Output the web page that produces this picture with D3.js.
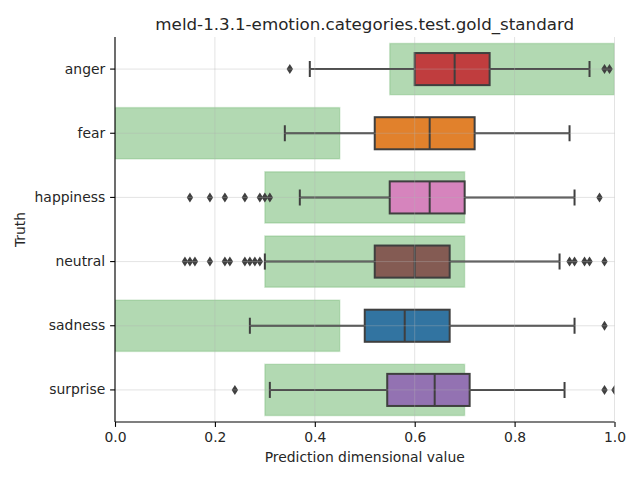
<!DOCTYPE html>
<html>
<head>
<meta charset="utf-8">
<script src="https://cdn.jsdelivr.net/npm/d3@7"></script>
<style>
  html, body { margin: 0; padding: 0; background: #fff; }
  text { font-family: "DejaVu Sans", sans-serif; fill: #262626; }
</style>
</head>
<body>
<svg id="chart" width="640" height="480"></svg>
<script>
// ---- data ----
const categories = ["anger", "fear", "happiness", "neutral", "sadness", "surprise"];
const colors = ["#c03d3e", "#e1812c", "#d684bd", "#845b53", "#3274a1", "#9372b2"];
const whiskerLow  = [0.39, 0.34, 0.37, 0.30, 0.27, 0.31];
const q1          = [0.60, 0.52, 0.55, 0.52, 0.50, 0.545];
const median      = [0.68, 0.63, 0.63, 0.60, 0.58, 0.64];
const q3          = [0.75, 0.72, 0.70, 0.67, 0.67, 0.71];
const whiskerHigh = [0.95, 0.91, 0.92, 0.89, 0.92, 0.90];
const outliers = [
  [0.35, 0.98, 0.99],
  [],
  [0.15, 0.19, 0.22, 0.26, 0.29, 0.30, 0.31, 0.97],
  [0.14, 0.15, 0.16, 0.19, 0.22, 0.23, 0.26, 0.27, 0.28, 0.29, 0.91, 0.92, 0.94, 0.95, 0.98],
  [0.98],
  [0.24, 0.98, 1.0]
];
const goldLow  = [0.55, 0.0, 0.3, 0.3, 0.0, 0.3];
const goldHigh = [1.0, 0.45, 0.7, 0.7, 0.45, 0.7];
const xTicks = [0, 0.2, 0.4, 0.6, 0.8, 1.0];
const title = "meld-1.3.1-emotion.categories.test.gold_standard";
const xLabel = "Prediction dimensional value";
const yLabel = "Truth";

// ---- layout ----
const mLeft = 115, mRight = 614.5, mTop = 37, mBottom = 422;
const svg = d3.select("#chart");
const x = d3.scaleLinear().domain([0, 1]).range([mLeft, mRight]);
const y = d3.scaleBand().domain(categories).range([mTop, mBottom]).padding(0);
const bw = y.bandwidth();
const lineColor = "#3f3f3f";

svg.append("defs").append("clipPath").attr("id", "clip")
  .append("rect").attr("x", mLeft).attr("y", mTop).attr("width", mRight - mLeft).attr("height", mBottom - mTop);

const plot = svg.append("g").attr("clip-path", "url(#clip)");

// gold standard ranges
plot.selectAll("rect.gold").data(categories).join("rect")
  .attr("class", "gold")
  .attr("x", (d, i) => x(goldLow[i]))
  .attr("width", (d, i) => x(goldHigh[i]) - x(goldLow[i]))
  .attr("y", d => y(d) + bw * 0.1)
  .attr("height", bw * 0.8)
  .attr("fill", "rgb(0,128,0)").attr("fill-opacity", 0.3)
  .attr("stroke", "rgb(0,128,0)").attr("stroke-opacity", 0.15).attr("stroke-width", 1.5);

const boxH = bw * 0.5;
const g = plot.selectAll("g.box").data(categories).join("g").attr("class", "box");

// whiskers
g.append("line")
  .attr("x1", (d, i) => x(whiskerLow[i])).attr("x2", (d, i) => x(q1[i]))
  .attr("y1", d => y(d) + bw / 2).attr("y2", d => y(d) + bw / 2)
  .attr("stroke", lineColor).attr("stroke-width", 2);
g.append("line")
  .attr("x1", (d, i) => x(q3[i])).attr("x2", (d, i) => x(whiskerHigh[i]))
  .attr("y1", d => y(d) + bw / 2).attr("y2", d => y(d) + bw / 2)
  .attr("stroke", lineColor).attr("stroke-width", 2);
// caps
[whiskerLow, whiskerHigh].forEach(arr => {
  g.append("line")
    .attr("x1", (d, i) => x(arr[i])).attr("x2", (d, i) => x(arr[i]))
    .attr("y1", d => y(d) + bw / 2 - boxH / 4).attr("y2", d => y(d) + bw / 2 + boxH / 4)
    .attr("stroke", lineColor).attr("stroke-width", 2);
});
// box
g.append("rect")
  .attr("x", (d, i) => x(q1[i])).attr("width", (d, i) => x(q3[i]) - x(q1[i]))
  .attr("y", d => y(d) + (bw - boxH) / 2).attr("height", boxH)
  .attr("fill", (d, i) => colors[i])
  .attr("stroke", lineColor).attr("stroke-width", 2);
// median
g.append("line")
  .attr("x1", (d, i) => x(median[i])).attr("x2", (d, i) => x(median[i]))
  .attr("y1", d => y(d) + (bw - boxH) / 2).attr("y2", d => y(d) + (bw + boxH) / 2)
  .attr("stroke", lineColor).attr("stroke-width", 2);
// outliers (thin diamonds)
const pts = [];
categories.forEach((c, i) => outliers[i].forEach(v => pts.push({ c, v })));
plot.selectAll("path.out").data(pts).join("path")
  .attr("class", "out")
  .attr("transform", d => `translate(${x(d.v)},${y(d.c) + bw / 2})`)
  .attr("d", "M0,-5L3.2,0L0,5L-3.2,0Z")
  .attr("fill", lineColor);

// grid on top (light)
const grid = svg.append("g");
grid.selectAll("line.gx").data(xTicks).join("line")
  .attr("x1", d => x(d)).attr("x2", d => x(d)).attr("y1", mTop).attr("y2", mBottom)
  .attr("stroke", "#b0b0b0").attr("stroke-opacity", 0.45).attr("stroke-width", 0.8);
grid.selectAll("line.gy").data(categories).join("line")
  .attr("y1", d => y(d) + bw / 2).attr("y2", d => y(d) + bw / 2).attr("x1", mLeft).attr("x2", mRight)
  .attr("stroke", "#b0b0b0").attr("stroke-opacity", 0.45).attr("stroke-width", 0.8);

// axes
const xAxis = svg.append("g").attr("transform", `translate(0,${mBottom})`)
  .call(d3.axisBottom(x).tickValues(xTicks).tickFormat(d3.format(".1f")).tickSize(4.9).tickPadding(4.9));
const yAxis = svg.append("g").attr("transform", `translate(${mLeft},0)`)
  .call(d3.axisLeft(y).tickSize(4.9).tickPadding(4.9));
[xAxis, yAxis].forEach(a => {
  a.select(".domain").attr("stroke", "#000").attr("stroke-width", 1.1);
  a.selectAll(".tick line").attr("stroke", "#000").attr("stroke-width", 1.1);
  a.selectAll(".tick text").attr("font-size", "13.9px").attr("font-family", "DejaVu Sans").attr("fill", "#262626");
});
yAxis.select(".domain").attr("d", `M0,${mTop}V${mBottom}`);
xAxis.select(".domain").attr("d", `M${mLeft},0H${mRight}`);

// labels
svg.append("text").attr("x", (mLeft + mRight) / 2).attr("y", 30)
  .attr("text-anchor", "middle").attr("font-size", "16.7px").text(title);
svg.append("text").attr("x", (mLeft + mRight) / 2).attr("y", 462)
  .attr("text-anchor", "middle").attr("font-size", "13.9px").text(xLabel);
svg.append("text").attr("transform", `translate(25,${(mTop + mBottom) / 2}) rotate(-90)`)
  .attr("text-anchor", "middle").attr("font-size", "13.9px").text(yLabel);
</script>
</body>
</html>
